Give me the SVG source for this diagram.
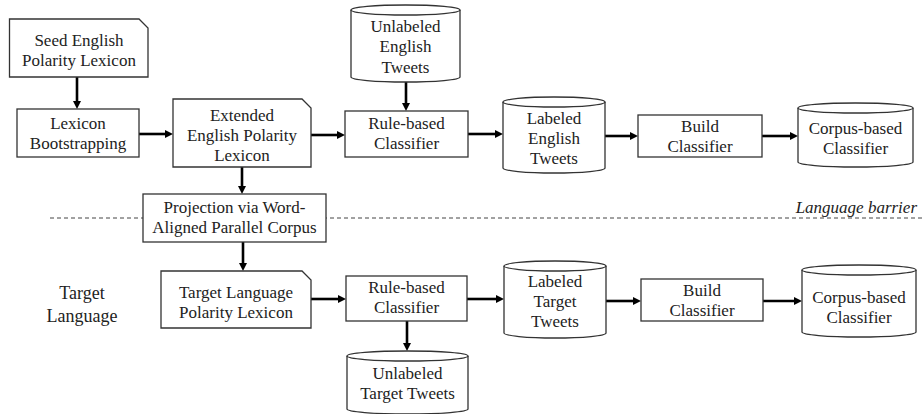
<svg xmlns="http://www.w3.org/2000/svg" width="923" height="414" viewBox="0 0 923 414" font-family="'Liberation Serif', 'Times New Roman', 'DejaVu Serif', serif">
<style>
.box{fill:#fff;stroke:#333;stroke-width:1.3}
.t{font-family:'Liberation Serif','Times New Roman','DejaVu Serif',serif;font-size:17px;fill:#222;text-anchor:middle}
.big{font-size:18px}
.it{font-style:italic;text-anchor:end}
.arr{stroke:#000;stroke-width:2.6;fill:none;marker-end:url(#ah)}
.dash{stroke:#444;stroke-width:1;stroke-dasharray:4 3;fill:none}
</style>
<defs>
<marker id="ah" markerUnits="userSpaceOnUse" markerWidth="9" markerHeight="9" refX="2" refY="4" orient="auto">
<path d="M0,0 L8,4 L0,8 Z" fill="#000"/>
</marker>
</defs>
<rect width="923" height="414" fill="#fff"/>
<line class="dash" x1="50" y1="218" x2="923" y2="218"/>
<text class="t it" x="917" y="213">Language barrier</text>

<g id="connectors">
<line class="arr" x1="77" y1="77" x2="77" y2="103"/>
<line class="arr" x1="139" y1="134" x2="167" y2="134"/>
<line class="arr" x1="311" y1="135" x2="339" y2="135"/>
<line class="arr" x1="406" y1="82" x2="406" y2="105"/>
<line class="arr" x1="468" y1="134" x2="497" y2="134"/>
<line class="arr" x1="605" y1="136" x2="632" y2="136"/>
<line class="arr" x1="762" y1="136" x2="792" y2="136"/>
<line class="arr" x1="242" y1="167" x2="242" y2="188"/>
<line class="arr" x1="243" y1="242" x2="243" y2="265"/>
<line class="arr" x1="311" y1="299" x2="340" y2="299"/>
<line class="arr" x1="407" y1="321" x2="407" y2="345"/>
<line class="arr" x1="467" y1="299" x2="498" y2="299"/>
<line class="arr" x1="606" y1="301" x2="635" y2="301"/>
<line class="arr" x1="763" y1="301" x2="796" y2="301"/>
</g>

<g id="seed-lexicon">
<path class="box" d="M9.5,19 H139 L148,28 V77 H9.5 Z"/>
<text class="t" x="79" y="46">Seed English</text>
<text class="t" x="79" y="66">Polarity Lexicon</text>
</g>

<g id="lexicon-bootstrapping">
<rect class="box" x="17" y="109" width="122" height="48"/>
<text class="t" x="78" y="129">Lexicon</text>
<text class="t" x="78" y="149">Bootstrapping</text>
</g>

<g id="extended-lexicon">
<path class="box" d="M173,99 H302 L311,108 V167 H173 Z"/>
<text class="t" x="242" y="121">Extended</text>
<text class="t" x="242" y="141">English Polarity</text>
<text class="t" x="242" y="161">Lexicon</text>
</g>

<g id="unlabeled-english">
<path class="box" d="M351,10 V77 A54.5,5 0 0 0 460,77 V10"/>
<ellipse class="box" cx="405.5" cy="10" rx="54.5" ry="5"/>
<text class="t" x="405.5" y="32">Unlabeled</text>
<text class="t" x="405.5" y="52">English</text>
<text class="t" x="405.5" y="73">Tweets</text>
</g>

<g id="rule-based-en">
<rect class="box" x="345" y="111" width="123" height="46"/>
<text class="t" x="406.5" y="129">Rule-based</text>
<text class="t" x="406.5" y="149">Classifier</text>
</g>

<g id="labeled-english">
<path class="box" d="M503,102 V168 A51,5 0 0 0 605,168 V102"/>
<ellipse class="box" cx="554" cy="102" rx="51" ry="5"/>
<text class="t" x="554" y="124">Labeled</text>
<text class="t" x="554" y="144">English</text>
<text class="t" x="554" y="164">Tweets</text>
</g>

<g id="build-en">
<rect class="box" x="638" y="115" width="124" height="42"/>
<text class="t" x="700" y="132">Build</text>
<text class="t" x="700" y="152">Classifier</text>
</g>

<g id="corpus-en">
<path class="box" d="M798,108 V162 A57.5,5 0 0 0 913,162 V108"/>
<ellipse class="box" cx="855.5" cy="108" rx="57.5" ry="5"/>
<text class="t" x="855.5" y="134">Corpus-based</text>
<text class="t" x="855.5" y="154">Classifier</text>
</g>

<g id="projection">
<rect class="box" x="143" y="194" width="183" height="48"/>
<text class="t" x="234.5" y="213">Projection via Word-</text>
<text class="t" x="234.5" y="233">Aligned Parallel Corpus</text>
</g>

<g id="target-language-label">
<text class="t big" x="82" y="299">Target</text>
<text class="t big" x="82" y="322">Language</text>
</g>

<g id="target-lexicon">
<path class="box" d="M161,271 H302 L311,280 V328 H161 Z"/>
<text class="t" x="236" y="298">Target Language</text>
<text class="t" x="236" y="318">Polarity Lexicon</text>
</g>

<g id="rule-based-tg">
<rect class="box" x="346" y="276" width="121" height="45"/>
<text class="t" x="406.5" y="293">Rule-based</text>
<text class="t" x="406.5" y="313">Classifier</text>
</g>

<g id="unlabeled-target">
<path class="box" d="M347,356 V409 A60.5,5 0 0 0 468,409 V356"/>
<ellipse class="box" cx="407.5" cy="356" rx="60.5" ry="5"/>
<text class="t" x="407.5" y="379">Unlabeled</text>
<text class="t" x="407.5" y="399">Target Tweets</text>
</g>

<g id="labeled-target">
<path class="box" d="M504,266 V333 A51,5 0 0 0 606,333 V266"/>
<ellipse class="box" cx="555" cy="266" rx="51" ry="5"/>
<text class="t" x="555" y="287">Labeled</text>
<text class="t" x="555" y="307">Target</text>
<text class="t" x="555" y="327">Tweets</text>
</g>

<g id="build-tg">
<rect class="box" x="641" y="279" width="122" height="42"/>
<text class="t" x="702" y="296">Build</text>
<text class="t" x="702" y="316">Classifier</text>
</g>

<g id="corpus-tg">
<path class="box" d="M802,270 V332 A57,5 0 0 0 916,332 V270"/>
<ellipse class="box" cx="859" cy="270" rx="57" ry="5"/>
<text class="t" x="859" y="303">Corpus-based</text>
<text class="t" x="859" y="323">Classifier</text>
</g>
</svg>
